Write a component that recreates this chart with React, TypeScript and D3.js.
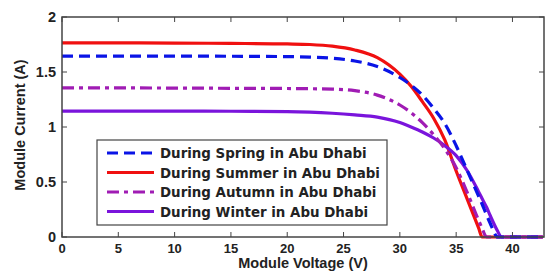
import React from "react";
import * as d3 from "d3";

// Module voltage samples (V)
const voltage = [0, 5, 10, 15, 20, 22, 24, 26, 28, 30, 31, 32, 33, 34, 35, 36, 37, 37.3, 37.7, 38, 38.7, 39, 42.7];

// Module current (A) per season
const spring = [1.645, 1.645, 1.644, 1.643, 1.64, 1.635, 1.625, 1.6, 1.55, 1.45, 1.38, 1.29, 1.17, 1.03, 0.83, 0.6, 0.37, 0.3, 0.2, 0.13, 0, 0, 0];
const summer = [1.765, 1.765, 1.763, 1.76, 1.755, 1.75, 1.735, 1.7, 1.63, 1.48, 1.37, 1.23, 1.08, 0.88, 0.6, 0.34, 0.08, 0, 0, 0, 0, 0, 0];
const autumn = [1.355, 1.355, 1.354, 1.352, 1.35, 1.348, 1.345, 1.33, 1.29, 1.2, 1.13, 1.04, 0.93, 0.8, 0.63, 0.4, 0.15, 0.08, 0, 0, 0, 0, 0];
const winter = [1.145, 1.145, 1.144, 1.143, 1.14, 1.135, 1.125, 1.11, 1.09, 1.04, 1.0, 0.955, 0.9, 0.83, 0.74, 0.6, 0.41, 0.35, 0.27, 0.2, 0.05, 0, 0];

const seriesNames = [
  "During Spring in Abu Dhabi",
  "During Summer in Abu Dhabi",
  "During Autumn in Abu Dhabi",
  "During Winter in Abu Dhabi",
];

const xTicks = [0, 5, 10, 15, 20, 25, 30, 35, 40];
const yTicks = [0, 0.5, 1, 1.5, 2];

export default function App() {
  const width = 546;
  const height = 275;
  const marginLeft = 62;
  const marginRight = 2;
  const marginTop = 17;
  const marginBottom = 38;

  const x = d3.scaleLinear().domain([0, 42.8]).range([marginLeft, width - marginRight]);
  const y = d3.scaleLinear().domain([0, 2]).range([height - marginBottom, marginTop]);

  const line = d3.line<number>()
    .x((d, i) => x(voltage[i]))
    .y(d => y(d))
    .curve(d3.curveMonotoneX);

  const series = [
    { name: seriesNames[0], values: spring, color: "#0a14e6", dash: "11,6" },
    { name: seriesNames[1], values: summer, color: "#f01010", dash: "" },
    { name: seriesNames[2], values: autumn, color: "#a01cb4", dash: "12,5,4,5" },
    { name: seriesNames[3], values: winter, color: "#7a14dc", dash: "" },
  ];

  const font = "Arial, 'Liberation Sans', sans-serif";
  const legendFont = "'DejaVu Sans', Verdana, sans-serif";
  const x0 = x.range()[0], x1 = x.range()[1];
  const y0 = y.range()[0], y1 = y.range()[1];

  // legend box
  const lgX = 97, lgY = 140, lgW = 290, lgH = 85;

  return (
    <svg width={width} height={height} style={{ position: "absolute", left: 0, top: 0, background: "#fff" }}>
      <rect width={width} height={height} fill="#fff" />

      {/* curves, drawn back to front */}
      <g fill="none" strokeWidth={3.2}>
        {[1, 3, 2, 0].map(k => (
          <path key={k} d={line(series[k].values) || ""} stroke={series[k].color}
            strokeDasharray={series[k].dash || undefined} />
        ))}
      </g>

      {/* axes box */}
      <rect x={x0} y={y1} width={x1 - x0} height={y0 - y1} fill="none" stroke="#444" strokeWidth={1.5} />

      {/* ticks */}
      <g stroke="#444" strokeWidth={1}>
        {xTicks.map(t => (
          <g key={t}>
            <line x1={x(t)} x2={x(t)} y1={y0} y2={y0 - 5} />
            <line x1={x(t)} x2={x(t)} y1={y1} y2={y1 + 5} />
          </g>
        ))}
        {yTicks.map(t => (
          <g key={t}>
            <line x1={x0} x2={x0 + 5} y1={y(t)} y2={y(t)} />
            <line x1={x1} x2={x1 - 5} y1={y(t)} y2={y(t)} />
          </g>
        ))}
      </g>

      <g fontFamily={font} fontWeight="bold" fill="#222">
        {xTicks.map(t => (
          <text key={t} x={x(t)} y={y0 + 16} textAnchor="middle" fontSize={13}>{t}</text>
        ))}
        {yTicks.map(t => (
          <text key={t} x={x0 - 6} y={y(t) + 5} textAnchor="end" fontSize={14.5}>{t}</text>
        ))}
      </g>

      <text x={303} y={268} textAnchor="middle" fontFamily={font} fontWeight="bold" fontSize={14.5} fill="#222">
        Module Voltage (V)
      </text>
      <text transform={`translate(25, 125) rotate(-90)`} textAnchor="middle" fontFamily={font}
        fontWeight="bold" fontSize={14.5} fill="#222">
        Module Current (A)
      </text>

      {/* legend */}
      <rect x={lgX} y={lgY} width={lgW} height={lgH} fill="#fff" stroke="#444" strokeWidth={1.2} />
      {series.map((s, i) => {
        const ly = lgY + 13 + i * 19.5;
        return (
          <g key={s.name}>
            <line x1={lgX + 10} x2={lgX + 57} y1={ly} y2={ly} stroke={s.color} strokeWidth={3.2}
              strokeDasharray={s.dash || undefined} />
            <text x={lgX + 63} y={ly + 5} fontFamily={legendFont} fontWeight="bold" fontSize={13.4} fill="#222">
              {s.name}
            </text>
          </g>
        );
      })}
    </svg>
  );
}
